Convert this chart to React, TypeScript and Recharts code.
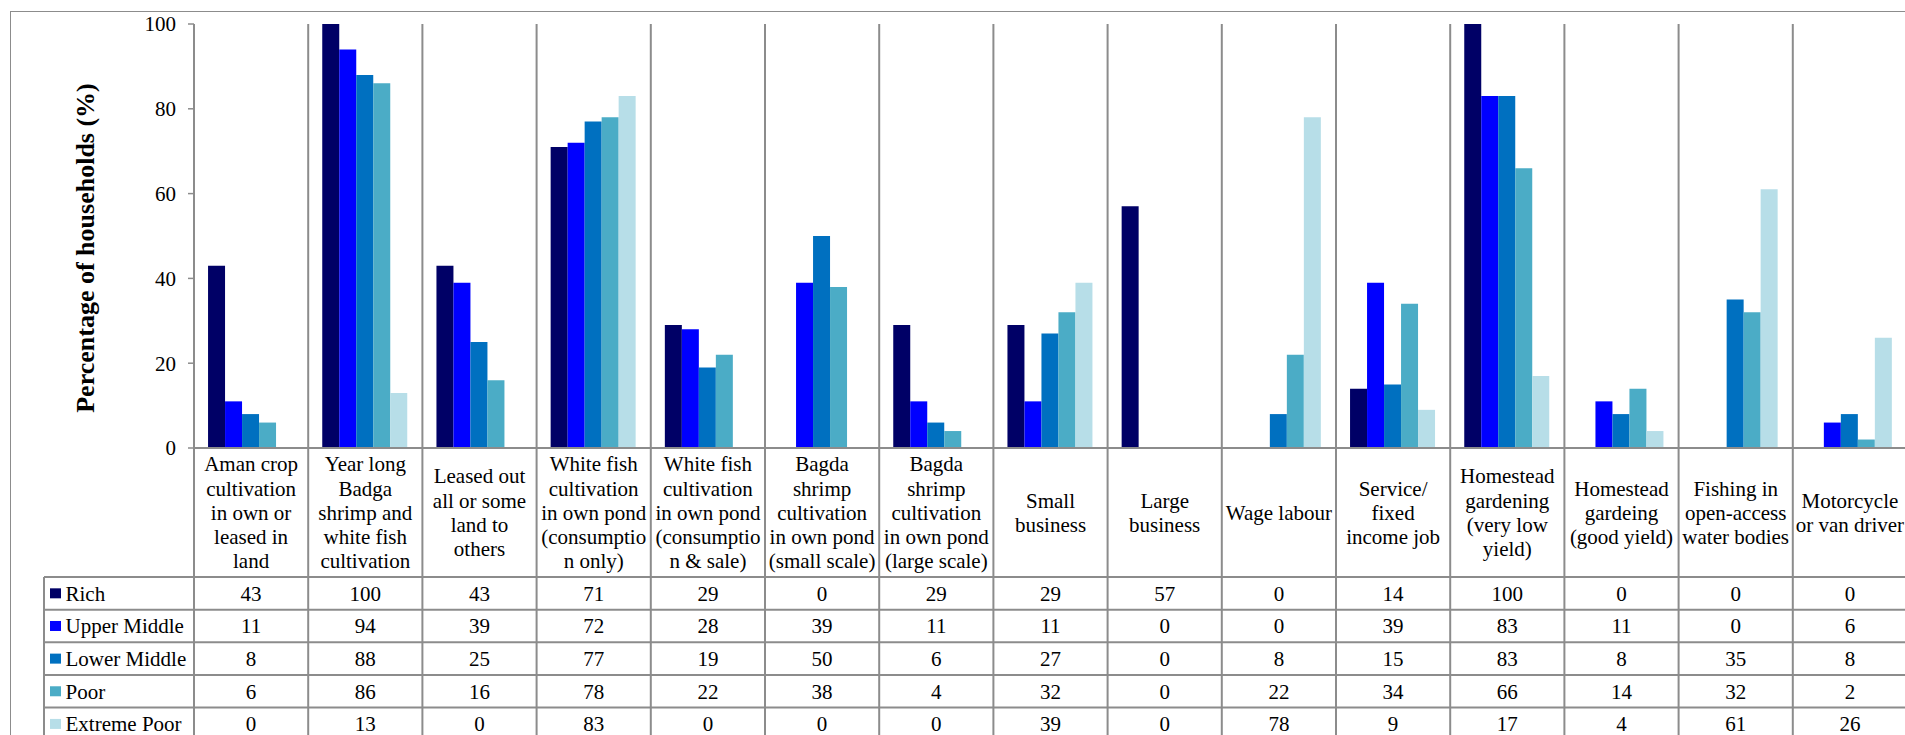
import { BarChart, Bar, XAxis, YAxis } from 'recharts';

// Livelihood activities (x categories); line breaks follow the table cell wrapping
const categories = [
  'Aman crop\ncultivation\nin own or\nleased in\nland',
  'Year long\nBadga\nshrimp and\nwhite fish\ncultivation',
  'Leased out\nall or some\nland to\nothers',
  'White fish\ncultivation\nin own pond\n(consumptio\nn only)',
  'White fish\ncultivation\nin own pond\n(consumptio\nn & sale)',
  'Bagda\nshrimp\ncultivation\nin own pond\n(small scale)',
  'Bagda\nshrimp\ncultivation\nin own pond\n(large scale)',
  'Small\nbusiness',
  'Large\nbusiness',
  'Wage labour',
  'Service/\nfixed\nincome job',
  'Homestead\ngardening\n(very low\nyield)',
  'Homestead\ngardeing\n(good yield)',
  'Fishing in\nopen-access\nwater bodies',
  'Motorcycle\nor van driver',
];

const groups = ['Rich', 'Upper Middle', 'Lower Middle', 'Poor', 'Extreme Poor'];

const rich = [43, 100, 43, 71, 29, 0, 29, 29, 57, 0, 14, 100, 0, 0, 0];
const upperMiddle = [11, 94, 39, 72, 28, 39, 11, 11, 0, 0, 39, 83, 11, 0, 6];
const lowerMiddle = [8, 88, 25, 77, 19, 50, 6, 27, 0, 8, 15, 83, 8, 35, 8];
const poor = [6, 86, 16, 78, 22, 38, 4, 32, 0, 22, 34, 66, 14, 32, 2];
const extremePoor = [0, 13, 0, 83, 0, 0, 0, 39, 0, 78, 9, 17, 4, 61, 26];

const yTicks = [0, 20, 40, 60, 80, 100];

const series = [rich, upperMiddle, lowerMiddle, poor, extremePoor];
const colors = ['#000066', '#0000FF', '#0070C0', '#4BACC6', '#B7DEE8'];

const data = categories.map((name, i) => {
  const row: Record<string, string | number> = { name };
  groups.forEach((g, k) => {
    row[g] = series[k][i];
  });
  return row;
});

// layout
const CHART_W = 1910;
const CHART_H = 735;
const PLOT_TOP = 24;
const Y_AXIS_W = 194;
const X_AXIS_H = 287;
const RIGHT = 3;
const PLOT_BOTTOM = CHART_H - X_AXIS_H;
const BAND = (CHART_W - Y_AXIS_W - RIGHT) / categories.length;
const LABEL_BOTTOM = 577;
const LABEL_MID = (PLOT_BOTTOM + LABEL_BOTTOM) / 2;
const LINE_H = 24.3;
const ROW_H = 32.65;
const TABLE_LEFT = 44;

const FONT = 'Times New Roman, Liberation Serif, serif';
const FONT_SIZE = 21;
const GRID = '#8c8c8c';
const textStyle = { fontFamily: FONT, fontSize: FONT_SIZE };

function CategoryTick(props: any) {
  const { x, payload } = props;
  const i = categories.indexOf(payload.value);
  const left = x - BAND / 2;
  const right = x + BAND / 2;
  const lines = String(payload.value).split('\n');
  const firstY = LABEL_MID - ((lines.length - 1) * LINE_H) / 2;
  const rowLines = [0, 1, 2, 3, 4, 5].map((k) => LABEL_BOTTOM + k * ROW_H);

  return (
    <g>
      <line x1={left} x2={left} y1={PLOT_TOP} y2={CHART_H} stroke={GRID} strokeWidth={2} />
      {i === categories.length - 1 && (
        <line x1={right} x2={right} y1={PLOT_TOP} y2={CHART_H} stroke={GRID} strokeWidth={2} />
      )}
      {lines.map((l, k) => (
        <text
          key={k}
          x={x}
          y={firstY + k * LINE_H}
          dy="0.35em"
          textAnchor="middle"
          style={textStyle}
          fill="#000"
        >
          {l}
        </text>
      ))}
      {rowLines.map((ry, k) => (
        <line key={'h' + k} x1={left} x2={right} y1={ry} y2={ry} stroke={GRID} strokeWidth={2} />
      ))}
      {series.map((s, k) => (
        <text
          key={'v' + k}
          x={x}
          y={LABEL_BOTTOM + (k + 0.5) * ROW_H}
          dy="0.35em"
          textAnchor="middle"
          style={textStyle}
          fill="#000"
        >
          {s[i]}
        </text>
      ))}
      {i === 0 && (
        <g>
          <line x1={TABLE_LEFT} x2={TABLE_LEFT} y1={LABEL_BOTTOM} y2={CHART_H} stroke={GRID} strokeWidth={2} />
          {rowLines.map((ry, k) => (
            <line key={'rh' + k} x1={TABLE_LEFT} x2={left} y1={ry} y2={ry} stroke={GRID} strokeWidth={2} />
          ))}
          {groups.map((g, k) => {
            const my = LABEL_BOTTOM + (k + 0.5) * ROW_H;
            return (
              <g key={g}>
                <rect x={50} y={my - 5} width={11} height={10} fill={colors[k]} />
                <text x={65.5} y={my} dy="0.35em" style={textStyle} fill="#000">
                  {g}
                </text>
              </g>
            );
          })}
        </g>
      )}
    </g>
  );
}

function YTitle() {
  return (
    <text
      transform="translate(85,248) rotate(-90)"
      textAnchor="middle"
      dy="0.35em"
      style={{ fontFamily: FONT, fontSize: 26, fontWeight: 'bold' }}
      fill="#000"
    >
      Percentage of households (%)
    </text>
  );
}

export default function App() {
  return (
    <div
      style={{
        position: 'absolute',
        left: 0,
        top: 0,
        width: 1905,
        height: 735,
        overflow: 'hidden',
        background: '#fff',
        fontFamily: FONT,
      }}
    >
      <div
        style={{
          position: 'absolute',
          left: 10,
          top: 11,
          width: 2000,
          height: 1000,
          border: '1.5px solid #8c8c8c',
        }}
      />
      <div style={{ position: 'absolute', left: 0, top: 0 }}>
        <BarChart
          width={CHART_W}
          height={CHART_H}
          data={data}
          margin={{ top: PLOT_TOP, right: RIGHT, bottom: 0, left: 0 }}
          barCategoryGap="12.3%"
          barGap={0}
        >
          <XAxis
            dataKey="name"
            height={X_AXIS_H}
            interval={0}
            tickLine={false}
            axisLine={{ stroke: GRID, strokeWidth: 2 }}
            tick={<CategoryTick />}
          />
          <YAxis
            width={Y_AXIS_W}
            domain={[0, 100]}
            ticks={yTicks}
            tickSize={6}
            tickMargin={12}
            axisLine={{ stroke: GRID, strokeWidth: 1.5 }}
            tickLine={{ stroke: GRID, strokeWidth: 1.5 }}
            tick={{ fontSize: FONT_SIZE, fill: '#000', style: { fontFamily: FONT } }}
            label={<YTitle />}
          />
          {groups.map((g, k) => (
            <Bar key={g} dataKey={g} fill={colors[k]} isAnimationActive={false} />
          ))}
        </BarChart>
      </div>
    </div>
  );
}
